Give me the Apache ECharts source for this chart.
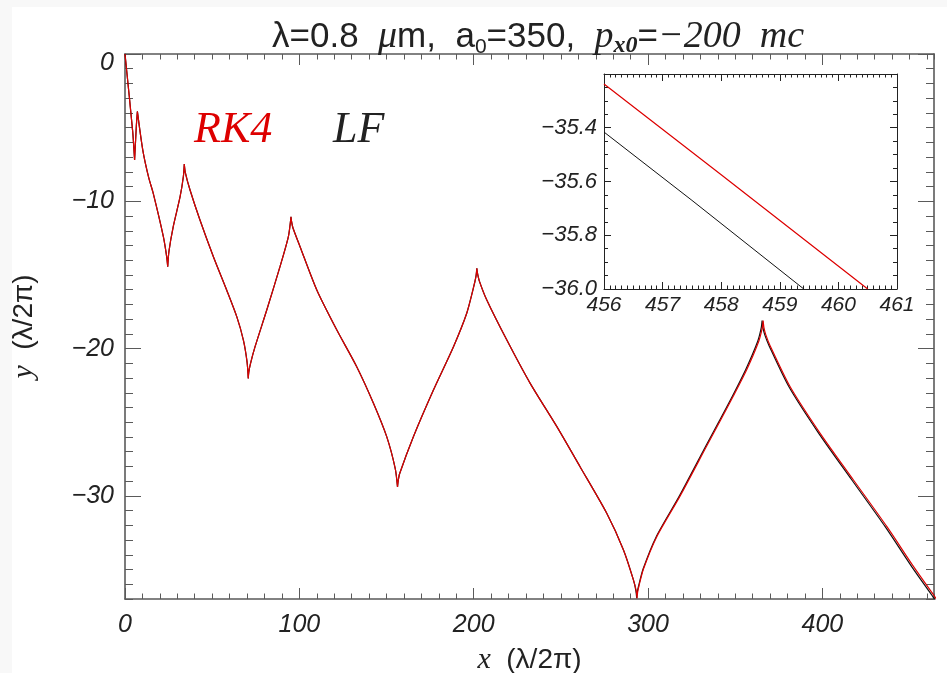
<!DOCTYPE html>
<html>
<head>
<meta charset="utf-8">
<script src="https://cdn.jsdelivr.net/npm/echarts@6/dist/echarts.min.js"></script>
<style>
html,body{margin:0;padding:0;background:#f8f8f8;}
#chart{position:absolute;left:12px;top:7px;width:935px;height:666px;background:#fff;}
</style>
</head>
<body>
<div id="chart"></div>
<script>
// trajectory, part where RK4 and LF lie on top of each other
var sharedX = [0, 4.4, 5.5, 6.5, 7.1, 10.2, 13.6, 16.2, 22.0, 23.9, 24.5, 25.2, 27.7, 31.6, 33.5, 34.0,
	34.6, 37.3, 43.0, 50.7, 58.3, 64.1, 67.9, 70.0, 70.7, 71.0, 71.9, 74.6, 81.3, 88.9, 93.7, 95.2,
	95.5, 96.3, 100.4, 110.0, 121.5, 132.9, 142.5, 150.1, 155.0, 156.3, 156.6, 157.5, 165.4, 176.9, 188.4, 196.0, 199.8, 201.3, 201.8,
	202.1, 203.2, 207.5, 219.0, 232.4, 247.7, 261.0, 276.3, 285.9, 291.6];
var sharedY = [0, -5.25, -7.2, -4.9, -3.9, -6.52, -8.4, -9.46, -12.4, -13.76, -14.44, -13.4, -11.7, -9.69, -8.3, -7.47,
	-8.05, -9.23, -11.27, -13.76, -16.02, -17.83, -19.42, -20.9, -22.02, -21.6, -21.05, -19.87, -17.38, -14.44, -12.4, -11.05,
	-11.35, -11.8, -13.08, -16.02, -18.74, -21.23, -23.71, -25.98, -28.15, -29.4, -29.05, -28.5, -25.98, -22.81, -19.87, -17.6, -15.9, -15.1, -14.55,
	-14.85, -15.4, -16.7, -19.42, -22.36, -25.3, -28.02, -31.18, -33.67, -35.7];
// after ~x=290 LF drifts slightly left of RK4
var tailY = [-36.43, -36.95, -36.55, -36.1, -34.95, -32.77, -30.0, -26.6, -24.9, -23.2, -21.4, -19.5,
	-18.6, -18.1, -18.6, -19.05, -19.8, -22.59, -25.75, -28.92, -32.09, -34.8, -36.73, -37.1];
var rk4TailX = [293.2, 293.7, 294.0, 294.8, 297.4, 305.0, 318.4, 333.7, 341.4, 349.0, 356.7, 363.5,
	365.5, 366.0, 366.5, 367.5, 370.0, 381.5, 398.7, 417.8, 437.0, 452.3, 463.8, 466.0];
var lfTailX = [293.0, 293.5, 293.8, 294.6, 297.2, 304.7, 318.0, 333.2, 340.9, 348.5, 356.1, 362.9,
	364.9, 365.4, 365.9, 366.9, 369.4, 380.8, 397.9, 416.9, 436.0, 451.2, 462.7, 464.9];
// zoomed window
var insetRk4X = [456, 458, 460.5];
var insetRk4Y = [-35.237, -35.575, -36.0];
var insetLfX = [456, 457.5, 459.41];
var insetLfY = [-35.416, -35.67, -36.0];
// tick labels
var mainXTicks = [0, 100, 200, 300, 400];
var mainYTicks = [0, -10, -20, -30];
var insetXTicks = [456, 457, 458, 459, 460, 461];
var insetYTicks = [-36.0, -35.8, -35.6, -35.4, -35.2];
var insetYLabels = [-36.0, -35.8, -35.6, -35.4];

var RED = '#dd0000';
var frameMain = '#5a5a5a';
var frameInset = '#222';
var tickFont = 'Liberation Sans';

// break the line at every turning point so each arc is smoothed alone (keeps cusps sharp)
function arcs(xs, ys){
	var out = [[xs[0], ys[0]]];
	for(var i=1;i<xs.length;i++){
		out.push([xs[i], ys[i]]);
		if(i<xs.length-1 && (ys[i]-ys[i-1])*(ys[i+1]-ys[i])<0){
			out.push('-');
			out.push([xs[i], ys[i]]);
		}
	}
	return out;
}
function zip(xs, ys){
	var out=[];
	for(var i=0;i<xs.length;i++){ out.push([xs[i], ys[i]]); }
	return out;
}
function minus(v, d){
	var s = d==null ? String(Math.abs(v)) : Math.abs(v).toFixed(d);
	return v<0 ? '\u2212'+s : s;
}

function minorAxis(grid, pos, min, max, step, len, color){
	return {type:'value', gridIndex:grid, position:pos, min:min, max:max, interval:step,
		axisLine:{show:false, onZero:false},
		axisTick:{show:true, inside:true, length:len, lineStyle:{color:color, width:1}},
		axisLabel:{show:false}, splitLine:{show:false}};
}
function majorAxis(grid, pos, min, max, ticks, len, color, width, label){
	var ax = {type:'value', gridIndex:grid, position:pos, min:min, max:max,
		axisLine:{show:true, onZero:false, lineStyle:{color:color, width:width}},
		axisTick:{show:true, inside:true, length:len, customValues:ticks, lineStyle:{color:color, width:1}},
		axisLabel:{show:false}, splitLine:{show:false}};
	if(label){ ax.axisLabel = label; }
	return ax;
}

var mainXLabel = {show:true, customValues:mainXTicks, margin:14, color:'#222',
	fontFamily:tickFont, fontStyle:'italic', fontSize:25, formatter:function(v){ return minus(v); }};
var mainYLabel = {show:true, customValues:mainYTicks, margin:11, color:'#222',
	fontFamily:tickFont, fontStyle:'italic', fontSize:25,
	formatter:function(v){ return v===0 ? '{z|0}' : minus(v); },
	rich:{z:{fontFamily:tickFont, fontStyle:'italic', fontSize:25, color:'#222', padding:[18,0,0,0]}}};
var insetXLabel = {show:true, customValues:insetXTicks, margin:6, color:'#222',
	fontFamily:tickFont, fontStyle:'italic', fontSize:21, formatter:function(v){ return String(v); }};
var insetYLabel = {show:true, customValues:insetYLabels, margin:7, color:'#222',
	fontFamily:tickFont, fontStyle:'italic', fontSize:22, formatter:function(v){ return minus(v, 1); }};

var nameStyle = {rich:{
	i:{fontFamily:'Liberation Serif', fontStyle:'italic', fontSize:30, color:'#222'},
	n:{fontFamily:'Liberation Sans', fontSize:28, color:'#222'}}};
var xMain = majorAxis(0, 'bottom', 0, 464, mainXTicks, 11, frameMain, 1.6, mainXLabel);
xMain.name = '{i|x}{n|  (λ/2π)}';
xMain.nameLocation = 'middle';
xMain.nameGap = 46;
xMain.nameTextStyle = nameStyle;
var yMain = majorAxis(0, 'left', -37, 0, mainYTicks, 16, frameMain, 1.6, mainYLabel);
yMain.name = '{i|y}{n|  (λ/2π)}';
yMain.nameLocation = 'middle';
yMain.nameGap = 86;
yMain.nameTextStyle = nameStyle;

var mainGrid = 0, insetGrid = 1;
var option = {
	animation:false,
	backgroundColor:'#fff',
	title:{
		left:521, top:4, textAlign:'center',
		text:'{n|λ=0.8  }{g|μ}{n|m,  a}{s|0}{n|=350,  }{g|p}{gs|x0}{n|=}{g|−200  mc}',
		textStyle:{fontWeight:'normal', rich:{
			n:{fontFamily:'Liberation Sans', fontWeight:'normal', fontSize:35, color:'#222', lineHeight:42},
			g:{fontFamily:'Liberation Serif', fontStyle:'italic', fontWeight:'normal', fontSize:38, color:'#222', lineHeight:42},
			s:{fontFamily:'Liberation Sans', fontWeight:'normal', fontSize:21, color:'#222', verticalAlign:'bottom', lineHeight:42},
			gs:{fontFamily:'Liberation Serif', fontStyle:'italic', fontWeight:'bold', fontSize:24, color:'#222', verticalAlign:'bottom', lineHeight:42}
		}}
	},
	grid:[
		{left:113, top:47, width:809, height:545, outerBoundsMode:'none', containLabel:false},
		{left:592, top:67, width:293, height:215, outerBoundsMode:'none', containLabel:false,
			show:true, backgroundColor:'#fff', borderWidth:0}
	],
	xAxis:[
		xMain,
		minorAxis(mainGrid, 'bottom', 0, 464, 10, 5.5, frameMain),
		majorAxis(mainGrid, 'top', 0, 464, mainXTicks, 11, frameMain, 1.6),
		minorAxis(mainGrid, 'top', 0, 464, 10, 5.5, frameMain),
		majorAxis(insetGrid, 'bottom', 456, 461, insetXTicks, 7, frameInset, 1, insetXLabel),
		minorAxis(insetGrid, 'bottom', 456, 461, 0.1, 3.5, frameInset),
		majorAxis(insetGrid, 'top', 456, 461, insetXTicks, 7, frameInset, 1),
		minorAxis(insetGrid, 'top', 456, 461, 0.1, 3.5, frameInset)
	],
	yAxis:[
		yMain,
		minorAxis(mainGrid, 'left', -37, 0, 1, 8, frameMain),
		majorAxis(mainGrid, 'right', -37, 0, mainYTicks, 16, frameMain, 1.6),
		minorAxis(mainGrid, 'right', -37, 0, 1, 8, frameMain),
		majorAxis(insetGrid, 'left', -36, -35.2, insetYTicks, 7, frameInset, 1, insetYLabel),
		minorAxis(insetGrid, 'left', -36, -35.2, 0.05, 4, frameInset),
		majorAxis(insetGrid, 'right', -36, -35.2, insetYTicks, 7, frameInset, 1),
		minorAxis(insetGrid, 'right', -36, -35.2, 0.05, 4, frameInset)
	],
	graphic:[
		{type:'text', left:182, top:101, style:{text:'RK4', fill:RED, font:'italic 44px "Liberation Serif"'}},
		{type:'text', left:321, top:101, style:{text:'LF', fill:'#222', font:'italic 44px "Liberation Serif"'}}
	],
	series:[
		{name:'LF', type:'line', xAxisIndex:0, yAxisIndex:0, showSymbol:false, symbol:'none',
			smooth:0.25, connectNulls:false, z:2,
			lineStyle:{color:'#111', width:1.2},
			data:arcs(sharedX.concat(lfTailX), sharedY.concat(tailY))},
		{name:'RK4', type:'line', xAxisIndex:0, yAxisIndex:0, showSymbol:false, symbol:'none',
			smooth:0.25, connectNulls:false, z:3,
			lineStyle:{color:RED, width:1.2},
			data:arcs(sharedX.concat(rk4TailX), sharedY.concat(tailY))},
		{name:'LF inset', type:'line', xAxisIndex:4, yAxisIndex:4, symbol:'none',
			lineStyle:{color:'#111', width:1}, data:zip(insetLfX, insetLfY)},
		{name:'RK4 inset', type:'line', xAxisIndex:4, yAxisIndex:4, symbol:'none',
			lineStyle:{color:RED, width:1.2}, data:zip(insetRk4X, insetRk4Y)}
	]
};
var chart = echarts.init(document.getElementById('chart'));
chart.setOption(option);
</script>
</body>
</html>
